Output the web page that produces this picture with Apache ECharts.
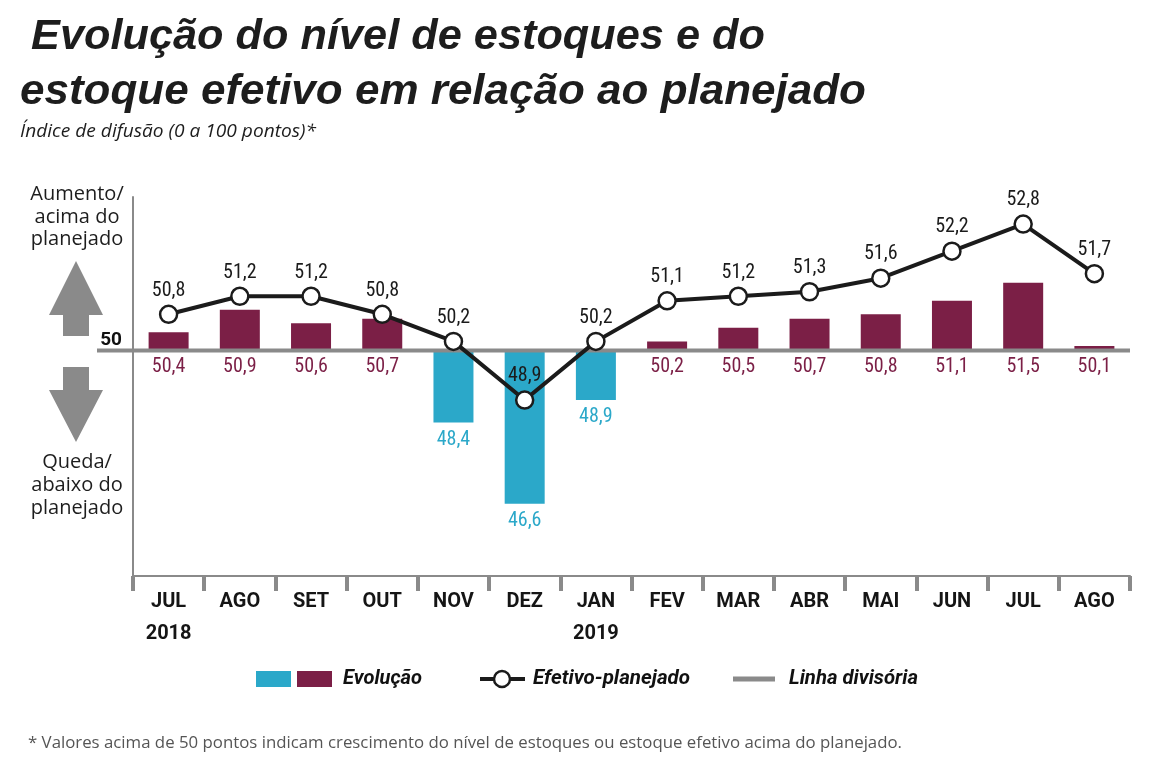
<!DOCTYPE html>
<html><head><meta charset="utf-8">
<script src="https://cdn.jsdelivr.net/npm/echarts@6/dist/echarts.min.js"></script>
<style>html,body{margin:0;padding:0;background:#fff}#c{width:1171px;height:780px}</style>
</head><body><div id="c"></div>
<script>
// ---- data ----
const categories = ['JUL','AGO','SET','OUT','NOV','DEZ','JAN','FEV','MAR','ABR','MAI','JUN','JUL','AGO'];
const years = ['2018','','','','','','2019','','','','','','',''];
const evolucao = [50.4,50.9,50.6,50.7,48.4,46.6,48.9,50.2,50.5,50.7,50.8,51.1,51.5,50.1];
const efetivo = [50.8,51.2,51.2,50.8,50.2,48.9,50.2,51.1,51.2,51.3,51.6,52.2,52.8,51.7];
const divisoria = 50;
const yTickLabels = ['50'];

// ---- styles ----
const MAROON = '#7b1f46', BLUE = '#2ba8c9', GRAY = '#8a8a8a', INK = '#1b1b1b';
const NUMFONT = 'Roboto, "Open Sans", sans-serif';
const VALFONT = '"Liberation Sans Narrow", "Roboto Condensed", Roboto, sans-serif';
const fmt = v => v.toFixed(1).replace('.', ',');
const mctx = document.createElement('canvas').getContext('2d');
function fit(text, font, w) { mctx.font = font; return w / mctx.measureText(text).width; }

const chart = echarts.init(document.getElementById('c'), null, { renderer: 'canvas' });

chart.setOption({
  animation: false,
  backgroundColor: '#fff',
  grid: { left: 133, right: 41, top: 197, bottom: 204, outerBoundsMode: 'none' },
  xAxis: {
    type: 'category', data: categories, boundaryGap: true,
    axisLine: { onZero: false, lineStyle: { color: GRAY, width: 2 } },
    axisTick: { show: true, length: 15, alignWithLabel: false, lineStyle: { color: GRAY, width: 4 } },
    axisLabel: {
      interval: 0, margin: 10, fontFamily: NUMFONT, fontWeight: 'bold', fontSize: 20,
      color: '#151515', lineHeight: 32,
      formatter: (v, i) => years[i] ? v + '\n' + years[i] : v
    },
    splitLine: { show: false }
  },
  yAxis: {
    type: 'value', min: 45 - divisoria, max: 53.4 - divisoria, interval: 5,
    axisLine: { show: true, lineStyle: { color: GRAY, width: 2 } },
    axisTick: { show: false },
    splitLine: { show: false },
    axisLabel: {
      showMaxLabel: false, showMinLabel: false,
      formatter: v => (v === 0 ? yTickLabels[0] : ''),
      fontFamily: NUMFONT, fontWeight: 'bold', fontSize: 19, color: '#111',
      verticalAlign: 'bottom', margin: 11, padding: [0, 0, 1, 0]
    }
  },
  series: [
    {
      name: 'Evolução', type: 'bar', barWidth: 40, z: 2,
      data: evolucao.map(v => ({
        value: +(v - divisoria).toFixed(2),
        itemStyle: { color: v < divisoria ? BLUE : MAROON },
        label: { color: v < divisoria ? BLUE : MAROON }
      })),
      label: {
        show: true, position: 'bottom', distance: 7,
        fontFamily: VALFONT, fontSize: 20,
        formatter: p => fmt(evolucao[p.dataIndex])
      }
    },
    {
      name: 'Efetivo-planejado', type: 'line', z: 5,
      data: efetivo.map(v => +(v - divisoria).toFixed(2)),
      symbol: 'circle', symbolSize: 17,
      lineStyle: { color: INK, width: 4 },
      itemStyle: { color: '#fff', borderColor: INK, borderWidth: 2.5 },
      label: {
        show: true, position: 'top', distance: 4,
        fontFamily: VALFONT, fontSize: 20, color: INK,
        formatter: p => fmt(efetivo[p.dataIndex])
      }
    }
  ]
});

const y0 = chart.convertToPixel({ yAxisIndex: 0 }, 0);
const gridRight = chart.getWidth() - 41;

const T1 = 'Evolução do nível de estoques e do';
const T2 = 'estoque efetivo em relação ao planejado';
const TF = 'italic bold 43px "Liberation Sans", Arial, sans-serif';
const SUB = 'Índice de difusão (0 a 100 pontos)*';
const SF = 'italic 18px "Open Sans", sans-serif';
const FOOT = '* Valores acima de 50 pontos indicam crescimento do nível de estoques ou estoque efetivo acima do planejado.';
const FF = '17px "Open Sans", sans-serif';
const LF = 'italic bold 21px Roboto, sans-serif';
const SIDEF = '20px "Open Sans", sans-serif';

function txt(text, x, y, font, fill, opts) {
  opts = opts || {};
  const el = {
    type: 'text', x: x, y: y, z: 10,
    style: { text: text, font: font, fill: fill, align: opts.align || 'left', verticalAlign: 'middle' }
  };
  if (opts.width) el.scaleX = fit(text, font, opts.width);
  if (opts.lineHeight) el.style.lineHeight = opts.lineHeight;
  return el;
}

chart.setOption({
  graphic: [
    // divisória line
    { type: 'line', z: 3, shape: { x1: 97, y1: y0, x2: gridRight, y2: y0 },
      style: { stroke: GRAY, lineWidth: 4 } },
    // titles
    txt(T1, 31, 37, TF, '#1d1d1d', { width: 734 }),
    txt(T2, 20, 92, TF, '#1d1d1d', { width: 846 }),
    txt(SUB, 20, 132, SF, '#1d1d1d', { width: 296 }),
    txt(FOOT, 28, 743, FF, '#555', { width: 874 }),
    // side labels
    txt('Aumento/\nacima do\nplanejado', 77, 217, SIDEF, '#1d1d1d', { align: 'center', lineHeight: 22.5 }),
    txt('Queda/\nabaixo do\nplanejado', 77, 485, SIDEF, '#1d1d1d', { align: 'center', lineHeight: 23 }),
    // arrows
    { type: 'polygon', z: 3, shape: { points: [[76, 261], [103, 315], [89, 315], [89, 336], [63, 336], [63, 315], [49, 315]] },
      style: { fill: GRAY } },
    { type: 'polygon', z: 3, shape: { points: [[63, 367], [89, 367], [89, 390], [103, 390], [76, 442], [49, 390], [63, 390]] },
      style: { fill: GRAY } },
    // legend
    { type: 'rect', z: 10, shape: { x: 256, y: 671, width: 35, height: 16 }, style: { fill: BLUE } },
    { type: 'rect', z: 10, shape: { x: 297, y: 671, width: 35, height: 16 }, style: { fill: MAROON } },
    txt('Evolução', 343, 679, LF, '#111', { width: 79 }),
    { type: 'line', z: 10, shape: { x1: 480, y1: 679, x2: 525, y2: 679 }, style: { stroke: INK, lineWidth: 4 } },
    { type: 'circle', z: 11, shape: { cx: 502, cy: 679, r: 8 }, style: { fill: '#fff', stroke: INK, lineWidth: 2.5 } },
    txt('Efetivo-planejado', 533, 679, LF, '#111', { width: 157 }),
    { type: 'line', z: 10, shape: { x1: 733, y1: 679, x2: 775, y2: 679 }, style: { stroke: GRAY, lineWidth: 5 } },
    txt('Linha divisória', 789, 679, LF, '#111', { width: 129 })
  ]
});
</script>
</body></html>
